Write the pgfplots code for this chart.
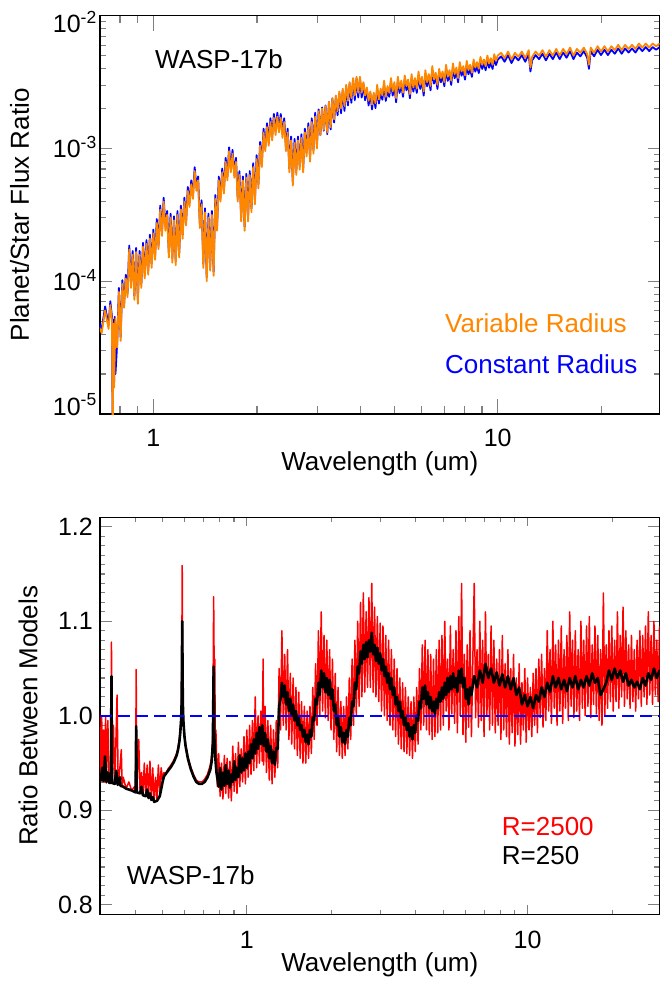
\documentclass[border=0pt]{standalone}
\usepackage{fontspec}
\setmainfont{Liberation Sans}
\usepackage{pgfplots}
\pgfplotsset{compat=1.18}
\definecolor{orng}{RGB}{255,135,0}
\begin{document}
\fontsize{26}{31}\selectfont
\begin{tikzpicture}
\path[use as bounding box] (0,0) rectangle (660pt,983pt);
% ---------------- top panel ----------------
\begin{axis}[
  at={(100pt,569pt)}, anchor=south west, scale only axis,
  width=559.5pt, height=398.3pt,
  xmode=log, ymode=log,
  xmin=0.7, xmax=29.5, ymin=1e-5, ymax=1e-2,
  xtick={1,10}, xticklabels={1,10},
  minor xtick={0.8,0.9,2,3,4,5,6,7,8,9,20},
  ytick={1e-5,1e-4,1e-3,1e-2},
  yticklabels={\raisebox{8pt}{10\textsuperscript{-5}},10\textsuperscript{-4},10\textsuperscript{-3},\raisebox{-8pt}{10\textsuperscript{-2}}},
  minor ytick={2e-5,3e-5,4e-5,5e-5,6e-5,7e-5,8e-5,9e-5,2e-4,3e-4,4e-4,5e-4,6e-4,7e-4,8e-4,9e-4,2e-3,3e-3,4e-3,5e-3,6e-3,7e-3,8e-3,9e-3},
  tick align=inside,
  axis line style={line width=1.2pt},
  xtick style={line width=1.1pt, /pgfplots/major tick length=15pt, /pgfplots/minor tick length=7.7pt},
  ytick style={line width=1.1pt, /pgfplots/major tick length=12pt, /pgfplots/minor tick length=6pt},
  xticklabel style={anchor=base, yshift=-32pt, inner sep=0pt, font=\fontsize{25}{30}\selectfont},
  yticklabel style={anchor=base east, xshift=-3pt, yshift=-9pt, inner sep=0pt, font=\fontsize{25}{30}\selectfont},
  xlabel={Wavelength (um)},
  xlabel style={at={(axis description cs:0.5,-0.1406)}, anchor=base, inner sep=0pt},
  ylabel={Planet/Star Flux Ratio},
  ylabel style={at={(axis description cs:-0.127,0.5)}, anchor=base, inner sep=0pt},
]
\addplot[blue, line width=1.8pt, line join=round] coordinates {
(0.6918,5.01e-5)(0.7079,4.35e-5)(0.7244,6.45e-5)(0.7413,4.68e-5)(0.7499,7.07e-5)(0.7586,5.36e-5)(0.7621,5.36e-6)(0.7656,5.13e-5)(0.7691,1.69e-5)(0.7727,5.40e-5)(0.7762,2.00e-5)(0.7852,3.38e-5)(0.7943,8.90e-5)(0.8035,3.80e-5)(0.8128,1.02e-4)(0.8222,6.75e-5)(0.8318,1.12e-4)(0.8414,8.12e-5)(0.8511,1.86e-4)(0.8610,9.53e-5)(0.8710,1.69e-4)(0.8810,7.75e-5)(0.8913,1.78e-4)(0.9016,7.23e-5)(0.9120,1.69e-4)(0.9226,9.53e-5)(0.9333,1.95e-4)(0.9441,1.12e-4)(0.9550,2.04e-4)(0.9661,1.20e-4)(0.9772,2.24e-4)(0.9886,1.35e-4)
(1.000,2.45e-4)(1.0116,1.55e-4)(1.0233,2.94e-4)(1.0351,1.86e-4)(1.0471,3.71e-4)(1.0593,2.34e-4)(1.0715,4.26e-4)(1.0839,2.57e-4)(1.0965,3.38e-4)(1.1092,1.62e-4)(1.1220,3.23e-4)(1.1350,1.48e-4)(1.1482,3.08e-4)(1.1614,1.41e-4)(1.1749,3.38e-4)(1.1885,1.62e-4)(1.2023,3.71e-4)(1.2162,2.24e-4)(1.2303,4.26e-4)(1.2445,2.81e-4)(1.2589,5.13e-4)(1.2735,3.88e-4)(1.2882,5.75e-4)(1.3032,4.46e-4)(1.3183,7.23e-4)(1.3335,5.13e-4)(1.3490,6.15e-4)(1.3646,2.69e-4)(1.3804,4.07e-4)(1.3964,1.35e-4)(1.4125,3.54e-4)(1.4289,1.07e-4)(1.4454,3.23e-4)(1.4622,1.28e-4)(1.4791,3.38e-4)(1.4962,1.18e-4)(1.5136,4.46e-4)(1.5311,2.57e-4)(1.5488,6.15e-4)(1.5668,4.26e-4)(1.5849,7.07e-4)(1.6032,4.89e-4)(1.6218,8.50e-4)(1.6406,6.15e-4)(1.6596,1.02e-3)(1.6788,7.07e-4)(1.6982,9.76e-4)(1.7179,6.45e-4)(1.7378,8.50e-4)(1.7579,4.26e-4)(1.7783,6.75e-4)(1.7989,3.02e-4)(1.8197,6.15e-4)(1.8408,2.57e-4)(1.8621,6.45e-4)(1.8836,3.02e-4)(1.9055,6.75e-4)(1.9275,3.54e-4)(1.9498,7.75e-4)(1.9724,4.07e-4)(1.9953,8.90e-4)
(2.0184,5.36e-4)(2.0417,1.12e-3)(2.0654,7.75e-4)(2.0893,1.41e-3)(2.1135,1.02e-3)(2.1380,1.55e-3)(2.1627,1.12e-3)(2.1878,1.69e-3)(2.2131,1.23e-3)(2.2387,1.82e-3)(2.2646,1.35e-3)(2.2909,1.86e-3)(2.3174,1.41e-3)(2.3442,1.82e-3)(2.3714,1.28e-3)(2.3988,1.69e-3)(2.4266,1.02e-3)(2.4547,1.41e-3)(2.4831,7.07e-4)(2.5119,1.23e-3)(2.5410,5.62e-4)(2.5704,1.18e-3)(2.6002,6.75e-4)(2.6303,1.23e-3)(2.6607,7.40e-4)(2.6915,1.28e-3)(2.7227,7.07e-4)(2.7542,1.41e-3)(2.7861,9.32e-4)(2.8184,1.55e-3)(2.8510,8.50e-4)(2.8840,1.69e-3)(2.9174,9.76e-4)(2.9512,1.86e-3)(2.9854,1.07e-3)
(3.0200,1.97e-3)(3.0549,1.26e-3)(3.0903,2.04e-3)(3.1261,1.36e-3)(3.1623,2.11e-3)(3.1989,1.28e-3)(3.2359,2.24e-3)(3.2734,1.39e-3)(3.3113,2.37e-3)(3.3497,1.57e-3)(3.3884,2.46e-3)(3.4277,1.78e-3)(3.4674,2.61e-3)(3.5075,1.84e-3)(3.5481,2.74e-3)(3.5892,1.92e-3)(3.6308,2.93e-3)(3.6728,2.11e-3)(3.7154,3.07e-3)(3.7584,2.21e-3)(3.8019,3.29e-3)(3.8459,2.31e-3)(3.8905,3.37e-3)(3.9355,2.42e-3)(3.9811,3.37e-3)(4.0272,2.42e-3)(4.0738,3.07e-3)(4.1210,2.31e-3)(4.1687,2.79e-3)(4.2170,2.11e-3)(4.2658,2.61e-3)(4.3152,1.97e-3)(4.3652,2.55e-3)(4.4157,2.01e-3)
(4.4668,2.81e-3)(4.5186,2.18e-3)(4.5709,2.62e-3)(4.6238,2.33e-3)(4.6774,3.01e-3)(4.7315,2.28e-3)(4.7863,2.74e-3)(4.8417,2.45e-3)(4.8978,3.15e-3)(4.9545,2.50e-3)(5.0119,2.94e-3)(5.0699,2.23e-3)(5.1286,3.23e-3)(5.1880,2.62e-3)(5.2481,3.01e-3)(5.3088,2.45e-3)(5.3703,3.30e-3)(5.4325,2.74e-3)(5.4954,3.08e-3)(5.5590,2.39e-3)(5.6234,3.38e-3)(5.6885,2.68e-3)(5.7544,3.15e-3)(5.8210,2.62e-3)(5.8884,3.53e-3)(5.9566,2.81e-3)(6.0256,3.23e-3)(6.0954,2.50e-3)(6.1660,3.62e-3)(6.2373,2.94e-3)(6.3096,3.38e-3)(6.3826,2.74e-3)(6.4565,3.88e-3)(6.5313,3.08e-3)(6.6069,3.46e-3)(6.6834,2.81e-3)(6.7608,3.70e-3)(6.8391,3.15e-3)(6.9183,3.53e-3)(6.9984,2.94e-3)(7.0795,3.97e-3)(7.1614,3.23e-3)(7.2444,3.62e-3)(7.3282,3.01e-3)(7.4131,4.06e-3)(7.4989,3.38e-3)(7.5858,3.79e-3)(7.6736,3.15e-3)(7.7625,4.16e-3)(7.8524,3.53e-3)(7.9433,3.88e-3)(8.0353,3.30e-3)(8.1283,4.25e-3)(8.2224,3.62e-3)(8.3176,3.97e-3)(8.4140,3.46e-3)(8.5114,4.35e-3)(8.6099,3.79e-3)(8.7096,4.16e-3)(8.8105,3.70e-3)(8.9125,4.56e-3)(9.0157,3.97e-3)(9.1201,4.35e-3)(9.2257,3.88e-3)(9.3325,4.66e-3)(9.4406,4.06e-3)(9.5499,4.45e-3)(9.6605,3.97e-3)(9.7724,4.77e-3)(9.8855,4.25e-3)
(10.000,4.66e-3)(10.233,4.94e-3)(10.471,4.50e-3)(10.715,5.05e-3)(10.965,4.40e-3)(11.220,4.94e-3)(11.482,4.61e-3)(11.749,5.05e-3)(12.023,4.50e-3)(12.303,5.17e-3)(12.445,3.80e-3)(12.589,4.61e-3)(12.882,5.05e-3)(13.183,4.71e-3)(13.490,5.17e-3)(13.804,4.61e-3)(14.125,5.17e-3)(14.454,4.71e-3)(14.791,5.28e-3)(15.136,4.71e-3)(15.488,5.28e-3)(15.849,4.82e-3)(16.218,5.41e-3)(16.596,4.71e-3)(16.982,5.28e-3)(17.378,4.94e-3)(17.783,5.41e-3)(18.197,4.82e-3)(18.408,3.98e-3)(18.621,5.41e-3)(19.055,4.94e-3)(19.498,5.54e-3)(19.953,5.05e-3)(20.417,5.54e-3)(20.893,5.05e-3)(21.380,5.54e-3)(21.878,5.17e-3)(22.387,5.67e-3)(22.909,5.17e-3)(23.442,5.67e-3)(23.988,5.28e-3)(24.547,5.67e-3)(25.119,5.28e-3)(25.704,5.80e-3)(26.303,5.41e-3)(26.915,5.80e-3)(27.542,5.41e-3)(28.184,5.80e-3)(28.840,5.54e-3)(29.512,5.80e-3)
};
\addplot[orng, line width=1.8pt, line join=round] coordinates {
(0.6918,4.68e-5)(0.7079,4.07e-5)(0.7244,6.03e-5)(0.7413,4.37e-5)(0.7499,6.61e-5)(0.7586,5.01e-5)(0.7621,5.01e-6)(0.7656,4.79e-5)(0.7691,1.58e-5)(0.7762,5.25e-5)(0.7852,3.16e-5)(0.7943,8.32e-5)(0.8035,3.55e-5)(0.8128,9.55e-5)(0.8222,6.31e-5)(0.8318,1.05e-4)(0.8414,7.59e-5)(0.8511,1.74e-4)(0.8610,8.91e-5)(0.8710,1.58e-4)(0.8810,7.24e-5)(0.8913,1.66e-4)(0.9016,6.76e-5)(0.9120,1.58e-4)(0.9226,8.91e-5)(0.9333,1.82e-4)(0.9441,1.05e-4)(0.9550,1.91e-4)(0.9661,1.12e-4)(0.9772,2.09e-4)(0.9886,1.26e-4)
(1.000,2.29e-4)(1.0116,1.45e-4)(1.0233,2.75e-4)(1.0351,1.74e-4)(1.0471,3.47e-4)(1.0593,2.19e-4)(1.0715,3.98e-4)(1.0839,2.40e-4)(1.0965,3.16e-4)(1.1092,1.51e-4)(1.1220,3.02e-4)(1.1350,1.38e-4)(1.1482,2.88e-4)(1.1614,1.32e-4)(1.1749,3.16e-4)(1.1885,1.51e-4)(1.2023,3.47e-4)(1.2162,2.09e-4)(1.2303,3.98e-4)(1.2445,2.63e-4)(1.2589,4.79e-4)(1.2735,3.63e-4)(1.2882,5.37e-4)(1.3032,4.17e-4)(1.3183,6.76e-4)(1.3335,4.79e-4)(1.3490,5.75e-4)(1.3646,2.51e-4)(1.3804,3.80e-4)(1.3964,1.26e-4)(1.4125,3.31e-4)(1.4289,1.00e-4)(1.4454,3.02e-4)(1.4622,1.20e-4)(1.4791,3.16e-4)(1.4962,1.10e-4)(1.5136,4.17e-4)(1.5311,2.40e-4)(1.5488,5.75e-4)(1.5668,3.98e-4)(1.5849,6.61e-4)(1.6032,4.57e-4)(1.6218,7.94e-4)(1.6406,5.75e-4)(1.6596,9.55e-4)(1.6788,6.61e-4)(1.6982,9.12e-4)(1.7179,6.03e-4)(1.7378,7.94e-4)(1.7579,3.98e-4)(1.7783,6.31e-4)(1.7989,2.82e-4)(1.8197,5.75e-4)(1.8408,2.40e-4)(1.8621,6.03e-4)(1.8836,2.82e-4)(1.9055,6.31e-4)(1.9275,3.31e-4)(1.9498,7.24e-4)(1.9724,3.80e-4)(1.9953,8.32e-4)
(2.0184,5.01e-4)(2.0417,1.05e-3)(2.0654,7.24e-4)(2.0893,1.32e-3)(2.1135,9.55e-4)(2.1380,1.45e-3)(2.1627,1.05e-3)(2.1878,1.58e-3)(2.2131,1.15e-3)(2.2387,1.70e-3)(2.2646,1.26e-3)(2.2909,1.74e-3)(2.3174,1.32e-3)(2.3442,1.70e-3)(2.3714,1.20e-3)(2.3988,1.58e-3)(2.4266,9.55e-4)(2.4547,1.32e-3)(2.4831,6.61e-4)(2.5119,1.15e-3)(2.5410,5.25e-4)(2.5704,1.10e-3)(2.6002,6.31e-4)(2.6303,1.15e-3)(2.6607,6.92e-4)(2.6915,1.20e-3)(2.7227,6.61e-4)(2.7542,1.32e-3)(2.7861,8.71e-4)(2.8184,1.45e-3)(2.8510,7.94e-4)(2.8840,1.58e-3)(2.9174,9.12e-4)(2.9512,1.74e-3)(2.9854,1.00e-3)
(3.0200,1.91e-3)(3.0549,1.26e-3)(3.0903,2.00e-3)(3.1261,1.38e-3)(3.1623,2.09e-3)(3.1989,1.32e-3)(3.2359,2.24e-3)(3.2734,1.45e-3)(3.3113,2.40e-3)(3.3497,1.66e-3)(3.3884,2.51e-3)(3.4277,1.91e-3)(3.4674,2.69e-3)(3.5075,2.00e-3)(3.5481,2.82e-3)(3.5892,2.09e-3)(3.6308,3.02e-3)(3.6728,2.29e-3)(3.7154,3.16e-3)(3.7584,2.40e-3)(3.8019,3.39e-3)(3.8459,2.51e-3)(3.8905,3.47e-3)(3.9355,2.63e-3)(3.9811,3.47e-3)(4.0272,2.63e-3)(4.0738,3.16e-3)(4.1210,2.51e-3)(4.1687,2.88e-3)(4.2170,2.29e-3)(4.2658,2.69e-3)(4.3152,2.14e-3)(4.3652,2.63e-3)(4.4157,2.19e-3)
(4.4668,3.02e-3)(4.5186,2.34e-3)(4.5709,2.82e-3)(4.6238,2.51e-3)(4.6774,3.24e-3)(4.7315,2.45e-3)(4.7863,2.95e-3)(4.8417,2.63e-3)(4.8978,3.39e-3)(4.9545,2.69e-3)(5.0119,3.16e-3)(5.0699,2.40e-3)(5.1286,3.47e-3)(5.1880,2.82e-3)(5.2481,3.24e-3)(5.3088,2.63e-3)(5.3703,3.55e-3)(5.4325,2.95e-3)(5.4954,3.31e-3)(5.5590,2.57e-3)(5.6234,3.63e-3)(5.6885,2.88e-3)(5.7544,3.39e-3)(5.8210,2.82e-3)(5.8884,3.80e-3)(5.9566,3.02e-3)(6.0256,3.47e-3)(6.0954,2.69e-3)(6.1660,3.89e-3)(6.2373,3.16e-3)(6.3096,3.63e-3)(6.3826,2.95e-3)(6.4565,4.17e-3)(6.5313,3.31e-3)(6.6069,3.72e-3)(6.6834,3.02e-3)(6.7608,3.98e-3)(6.8391,3.39e-3)(6.9183,3.80e-3)(6.9984,3.16e-3)(7.0795,4.27e-3)(7.1614,3.47e-3)(7.2444,3.89e-3)(7.3282,3.24e-3)(7.4131,4.37e-3)(7.4989,3.63e-3)(7.5858,4.07e-3)(7.6736,3.39e-3)(7.7625,4.47e-3)(7.8524,3.80e-3)(7.9433,4.17e-3)(8.0353,3.55e-3)(8.1283,4.57e-3)(8.2224,3.89e-3)(8.3176,4.27e-3)(8.4140,3.72e-3)(8.5114,4.68e-3)(8.6099,4.07e-3)(8.7096,4.47e-3)(8.8105,3.98e-3)(8.9125,4.90e-3)(9.0157,4.27e-3)(9.1201,4.68e-3)(9.2257,4.17e-3)(9.3325,5.01e-3)(9.4406,4.37e-3)(9.5499,4.79e-3)(9.6605,4.27e-3)(9.7724,5.13e-3)(9.8855,4.57e-3)
(10.000,5.01e-3)(10.233,5.25e-3)(10.471,4.79e-3)(10.715,5.37e-3)(10.965,4.68e-3)(11.220,5.25e-3)(11.482,4.90e-3)(11.749,5.37e-3)(12.023,4.79e-3)(12.303,5.50e-3)(12.445,4.07e-3)(12.589,4.90e-3)(12.882,5.37e-3)(13.183,5.01e-3)(13.490,5.50e-3)(13.804,4.90e-3)(14.125,5.50e-3)(14.454,5.01e-3)(14.791,5.62e-3)(15.136,5.01e-3)(15.488,5.62e-3)(15.849,5.13e-3)(16.218,5.75e-3)(16.596,5.01e-3)(16.982,5.62e-3)(17.378,5.25e-3)(17.783,5.75e-3)(18.197,5.13e-3)(18.408,4.27e-3)(18.621,5.75e-3)(19.055,5.25e-3)(19.498,5.89e-3)(19.953,5.37e-3)(20.417,5.89e-3)(20.893,5.37e-3)(21.380,5.89e-3)(21.878,5.50e-3)(22.387,6.03e-3)(22.909,5.50e-3)(23.442,6.03e-3)(23.988,5.62e-3)(24.547,6.03e-3)(25.119,5.62e-3)(25.704,6.17e-3)(26.303,5.75e-3)(26.915,6.17e-3)(27.542,5.75e-3)(28.184,6.17e-3)(28.840,5.89e-3)(29.512,6.17e-3)
};
\node[anchor=base west, inner sep=0pt] at (axis description cs:0.0983,0.868) {WASP-17b};
\node[anchor=base west, inner sep=0pt, text=orng] at (axis description cs:0.6166,0.2034) {Variable Radius};
\node[anchor=base west, inner sep=0pt, text=blue] at (axis description cs:0.6166,0.1029) {Constant Radius};
\end{axis}
% ---------------- bottom panel ----------------
\begin{axis}[
  at={(100pt,68.7pt)}, anchor=south west, scale only axis,
  width=559.5pt, height=397pt,
  xmode=log,
  xmin=0.3, xmax=29.5, ymin=0.79, ymax=1.21,
  xtick={1,10}, xticklabels={1,10},
  minor xtick={0.4,0.5,0.6,0.7,0.8,0.9,2,3,4,5,6,7,8,9,20},
  ytick={0.8,0.9,1.0,1.1,1.2},
  yticklabels={0.8,0.9,1.0,1.1,1.2},
  minor y tick num=9,
  tick align=inside,
  axis line style={line width=1.2pt},
  xtick style={line width=1.1pt, /pgfplots/major tick length=9pt, /pgfplots/minor tick length=4.5pt},
  ytick style={line width=1.1pt, /pgfplots/major tick length=12pt, /pgfplots/minor tick length=5.5pt},
  xticklabel style={anchor=base, yshift=-33.7pt, inner sep=0pt, font=\fontsize{25}{30}\selectfont},
  yticklabel style={anchor=east, xshift=-7pt, inner sep=0pt, font=\fontsize{25}{30}\selectfont},
  xlabel={Wavelength (um)},
  xlabel style={at={(axis description cs:0.5,-0.1453)}, anchor=base, inner sep=0pt},
  ylabel={Ratio Between Models},
  ylabel style={at={(axis description cs:-0.112,0.5)}, anchor=base, inner sep=0pt},
]
\addplot[red, line width=1.5pt, line join=round] coordinates {
(0.2951,0.935)(0.2985,1.005)(0.3020,0.931)(0.3041,1.000)(0.3069,0.930)(0.3090,0.985)(0.3119,0.930)(0.3141,1.000)(0.3162,0.929)(0.3199,0.995)(0.3236,0.929)(0.3281,0.930)(0.3296,1.078)(0.3311,0.929)(0.3350,0.990)(0.3388,0.928)(0.3451,1.022)(0.3483,0.927)(0.3532,0.945)(0.3573,0.964)(0.3597,0.926)(0.3631,0.935)(0.3715,0.923)(0.3802,0.930)(0.3890,0.921)(0.3981,0.925)(0.4018,0.919)(0.4036,1.049)(0.4055,0.919)(0.4121,0.975)(0.4169,0.918)(0.4217,0.940)(0.4266,0.916)(0.4315,0.950)(0.4365,0.915)(0.4416,0.948)(0.4467,0.913)(0.4519,0.952)(0.4571,0.911)(0.4624,0.945)(0.4677,0.909)(0.4732,0.935)(0.4786,0.912)(0.4842,0.948)(0.4898,0.918)(0.4955,0.945)
(0.5012,0.932)(0.5070,0.940)(0.5129,0.938)(0.5248,0.944)(0.5370,0.948)(0.5495,0.953)(0.5623,0.960)(0.5689,0.966)(0.5754,0.975)(0.5794,0.985)(0.5834,1.000)(0.5861,1.025)(0.5888,1.159)(0.5916,1.020)(0.5943,0.998)(0.5998,0.980)(0.6053,0.970)(0.6166,0.957)(0.6310,0.946)(0.6457,0.938)(0.6607,0.932)(0.6761,0.930)(0.6918,0.930)(0.7079,0.933)(0.7244,0.938)(0.7413,0.948)(0.7499,0.958)(0.7568,0.980)(0.7621,1.126)(0.7656,1.040)(0.7691,1.060)(0.7727,0.960)(0.7762,0.985)(0.7852,0.925)(0.7943,0.960)(0.8035,0.915)(0.8128,0.950)(0.8222,0.912)(0.8318,0.958)(0.8414,0.918)(0.8511,0.955)(0.8610,0.913)(0.8710,0.952)(0.8810,0.910)(0.8913,0.968)(0.9016,0.920)(0.9120,0.960)(0.9226,0.918)(0.9333,0.972)(0.9441,0.925)(0.9550,0.965)(0.9661,0.930)(0.9772,0.978)(0.9886,0.928)
(1.000,0.985)(1.0116,0.935)(1.0233,0.990)(1.0351,0.938)(1.0471,0.995)(1.0593,0.942)(1.0715,1.020)(1.0839,0.945)(1.0965,1.000)(1.1092,0.950)(1.1220,1.005)(1.1350,0.952)(1.1429,1.060)(1.1482,0.948)(1.1614,1.010)(1.1749,0.940)(1.1885,0.995)(1.2023,0.932)(1.2162,0.990)(1.2303,0.928)(1.2445,0.985)(1.2589,0.935)(1.2735,0.995)(1.2882,0.945)(1.3032,1.050)(1.3183,0.985)(1.3335,1.090)(1.3490,0.990)(1.3646,1.065)(1.3804,0.985)(1.3964,1.070)(1.4125,0.975)(1.4289,1.045)(1.4454,0.970)(1.4622,1.040)(1.4791,0.965)(1.4962,1.030)(1.5136,0.958)(1.5311,1.025)(1.5488,0.955)(1.5668,1.015)(1.5849,0.950)(1.6032,1.010)(1.6218,0.950)(1.6406,1.005)(1.6596,0.955)(1.6788,1.010)(1.6982,0.960)(1.7179,1.030)(1.7378,0.975)(1.7579,1.055)(1.7783,0.990)(1.7989,1.090)(1.8197,1.000)(1.8408,1.110)(1.8621,1.005)(1.8836,1.085)(1.9055,0.998)(1.9275,1.080)(1.9498,0.995)(1.9724,1.070)(1.9953,0.985)
(2.0184,1.060)(2.0417,0.975)(2.0654,1.045)(2.0893,0.962)(2.1135,1.030)(2.1380,0.958)(2.1627,1.015)(2.1878,0.955)(2.2131,1.010)(2.2387,0.958)(2.2646,1.020)(2.2909,0.965)(2.3174,1.040)(2.3442,0.975)(2.3714,1.060)(2.3988,0.990)(2.4266,1.080)(2.4547,1.000)(2.4831,1.100)(2.5119,1.010)(2.5410,1.120)(2.5704,1.020)(2.6002,1.130)(2.6303,1.025)(2.6607,1.110)(2.6915,1.030)(2.7227,1.125)(2.7542,1.030)(2.7861,1.140)(2.8184,1.025)(2.8510,1.115)(2.8840,1.020)(2.9174,1.105)(2.9512,1.015)(2.9854,1.098)
(3.0200,1.005)(3.0549,1.095)(3.0903,1.000)(3.1261,1.085)(3.1623,0.995)(3.1989,1.080)(3.2359,0.990)(3.2734,1.070)(3.3113,0.985)(3.3497,1.060)(3.3884,0.978)(3.4277,1.050)(3.4674,0.970)(3.5075,1.040)(3.5481,0.965)(3.5892,1.035)(3.6308,0.962)(3.6728,1.030)(3.7154,0.960)(3.7584,1.020)(3.8019,0.958)(3.8459,1.015)(3.8905,0.955)(3.9355,1.020)(3.9811,0.962)(4.0272,1.030)(4.0738,0.970)(4.1210,1.050)(4.1687,0.985)(4.2170,1.075)(4.2658,0.990)(4.3152,1.080)(4.3652,0.985)(4.4157,1.070)(4.4668,0.980)(4.5186,1.065)(4.5709,0.975)(4.6238,1.060)(4.6774,0.978)(4.7315,1.070)(4.7863,0.982)(4.8417,1.080)(4.8978,0.985)(4.9545,1.085)
(5.0119,0.990)(5.0699,1.100)(5.1286,1.005)(5.1880,1.060)(5.2481,0.985)(5.3088,1.095)(5.3703,1.002)(5.4325,1.070)(5.4954,0.992)(5.5590,1.090)(5.6234,0.982)(5.6885,1.105)(5.7544,1.000)(5.8210,1.140)(5.8884,0.980)(5.9566,1.065)(6.0256,0.972)(6.0954,1.075)(6.1660,0.988)(6.2373,1.090)(6.3096,0.978)(6.4565,1.140)(6.5313,0.998)(6.6069,1.070)(6.6834,0.988)(6.7608,1.100)(6.8391,0.995)(6.9183,1.080)(6.9984,0.978)(7.0795,1.110)(7.1614,1.000)(7.2444,1.065)(7.3282,0.985)(7.4131,1.095)(7.4989,0.990)(7.5858,1.080)(7.6736,0.982)(7.7625,1.060)(7.8524,0.990)(7.9433,1.070)(8.0353,0.975)(8.1283,1.085)(8.2224,0.985)(8.3176,1.055)(8.4140,0.978)(8.5114,1.070)(8.6099,0.970)(8.7096,1.050)(8.8105,0.982)(8.9125,1.065)(9.0157,0.968)(9.1201,1.040)(9.2257,0.980)(9.3325,1.055)(9.4406,0.970)(9.5499,1.035)(9.6605,0.985)(9.7724,1.050)(9.8855,0.972)
(10.000,1.040)(10.116,0.985)(10.233,1.030)(10.351,0.978)(10.471,1.045)(10.593,0.990)(10.715,1.050)(10.839,0.982)(10.965,1.060)(11.092,0.998)(11.220,1.065)(11.350,0.988)(11.482,1.050)(11.614,0.995)(11.749,1.090)(11.885,1.005)(12.023,1.070)(12.162,0.992)(12.303,1.100)(12.445,1.008)(12.589,1.075)(12.735,0.990)(12.882,1.080)(13.032,1.005)(13.183,1.095)(13.335,0.992)(13.490,1.070)(13.646,1.008)(13.804,1.085)(13.964,0.995)(14.125,1.110)(14.289,1.010)(14.454,1.080)(14.622,0.998)(14.791,1.090)(14.962,1.005)(15.136,1.070)(15.311,0.995)(15.488,1.100)(15.668,1.008)(15.849,1.080)(16.032,1.000)(16.218,1.095)(16.406,1.010)(16.596,1.105)(16.788,0.998)(16.982,1.075)(17.179,1.012)(17.378,1.095)(17.579,1.002)(17.783,1.085)(17.989,0.995)(18.197,1.070)(18.408,0.990)(18.621,1.130)(18.836,1.000)(19.055,1.075)(19.275,1.008)(19.498,1.090)(19.724,1.015)
(19.953,1.095)(20.184,1.005)(20.417,1.080)(20.654,1.015)(20.893,1.110)(21.135,1.008)(21.380,1.085)(21.627,1.020)(21.878,1.115)(22.131,1.010)(22.387,1.090)(22.646,1.018)(22.909,1.075)(23.174,1.008)(23.442,1.085)(23.714,1.015)(23.988,1.070)(24.266,1.005)(24.547,1.080)(24.831,1.018)(25.119,1.090)(25.410,1.010)(25.704,1.085)(26.002,1.020)(26.303,1.095)(26.607,1.012)(26.915,1.110)(27.227,1.022)(27.542,1.085)(27.861,1.012)(28.184,1.100)(28.510,1.022)(28.840,1.080)(29.174,1.015)(29.512,1.095)
};
\addplot[black, line width=2.6pt, line join=round] coordinates {
(0.2951,0.933)(0.3020,0.932)(0.3055,0.945)(0.3090,0.931)(0.3126,0.957)(0.3162,0.930)(0.3199,0.940)(0.3236,0.929)(0.3281,0.929)(0.3296,1.042)(0.3311,0.929)(0.3388,0.928)(0.3428,0.942)(0.3467,0.927)(0.3532,0.935)(0.3548,0.926)(0.3631,0.925)(0.3715,0.923)(0.3802,0.922)(0.3890,0.921)(0.4018,0.919)(0.4036,0.989)(0.4055,0.919)(0.4169,0.918)(0.4217,0.925)(0.4266,0.916)(0.4365,0.915)(0.4416,0.922)(0.4467,0.913)(0.4519,0.918)(0.4571,0.911)(0.4624,0.914)(0.4677,0.909)(0.4786,0.910)(0.4898,0.915)
(0.5012,0.930)(0.5070,0.936)(0.5129,0.938)(0.5248,0.942)(0.5370,0.946)(0.5495,0.951)(0.5623,0.958)(0.5689,0.964)(0.5754,0.973)(0.5794,0.982)(0.5834,0.995)(0.5861,1.015)(0.5888,1.100)(0.5916,1.015)(0.5943,0.995)(0.5998,0.978)(0.6053,0.968)(0.6166,0.955)(0.6310,0.944)(0.6457,0.936)(0.6607,0.930)(0.6761,0.928)(0.6918,0.928)(0.7079,0.930)(0.7244,0.935)(0.7413,0.943)(0.7499,0.952)(0.7568,0.970)(0.7621,1.052)(0.7656,0.980)(0.7727,0.955)(0.7798,0.940)
(0.7943,0.925)(0.8035,0.945)(0.8128,0.922)(0.8222,0.940)(0.8318,0.926)(0.8414,0.948)(0.8511,0.928)(0.8610,0.942)(0.8710,0.924)(0.8810,0.938)(0.8913,0.930)(0.9016,0.952)(0.9120,0.932)(0.9226,0.945)(0.9333,0.935)(0.9441,0.958)(0.9550,0.940)(0.9661,0.955)(0.9772,0.942)(0.9886,0.960)
(1.000,0.945)(1.0116,0.962)(1.0233,0.950)(1.0351,0.970)(1.0471,0.955)(1.0593,0.975)(1.0715,0.960)(1.0839,0.982)(1.0965,0.965)(1.1092,0.988)(1.1220,0.970)(1.1350,0.990)(1.1482,0.968)(1.1614,0.982)(1.1749,0.962)(1.1885,0.975)(1.2023,0.955)(1.2162,0.968)(1.2303,0.950)(1.2445,0.962)(1.2589,0.948)(1.2735,0.966)(1.2882,0.965)(1.3032,1.010)(1.3183,1.018)(1.3335,1.035)(1.3490,1.020)(1.3646,1.032)(1.3804,1.012)(1.3964,1.025)(1.4125,1.005)(1.4289,1.018)(1.4454,1.000)(1.4622,1.012)(1.4791,0.995)(1.4962,1.005)(1.5136,0.990)(1.5311,0.998)(1.5488,0.985)(1.5668,0.990)(1.5849,0.978)(1.6032,0.985)(1.6218,0.972)(1.6406,0.980)(1.6596,0.970)(1.6788,0.985)(1.6982,0.978)(1.7179,0.998)(1.7378,0.995)(1.7579,1.018)(1.7783,1.012)(1.7989,1.035)(1.8197,1.022)(1.8408,1.048)(1.8621,1.030)(1.8836,1.045)(1.9055,1.025)(1.9275,1.040)(1.9498,1.022)(1.9724,1.038)(1.9953,1.018)
(2.0184,1.028)(2.0417,1.005)(2.0654,1.012)(2.0893,0.990)(2.1135,0.998)(2.1380,0.978)(2.1627,0.988)(2.1878,0.972)(2.2131,0.982)(2.2387,0.970)(2.2646,0.985)(2.2909,0.978)(2.3174,0.998)(2.3442,0.990)(2.3714,1.015)(2.3988,1.010)(2.4266,1.035)(2.4547,1.028)(2.4831,1.052)(2.5119,1.045)(2.5410,1.068)(2.5704,1.055)(2.6002,1.075)(2.6303,1.060)(2.6607,1.078)(2.6915,1.062)(2.7227,1.080)(2.7542,1.068)(2.7861,1.088)(2.8184,1.065)(2.8510,1.075)(2.8840,1.058)(2.9174,1.072)(2.9512,1.055)(2.9854,1.066)
(3.0200,1.048)(3.0549,1.060)(3.0903,1.042)(3.1261,1.052)(3.1623,1.035)(3.1989,1.045)(3.2359,1.028)(3.2734,1.040)(3.3113,1.022)(3.3497,1.030)(3.3884,1.012)(3.4277,1.020)(3.4674,1.005)(3.5075,1.015)(3.5481,0.998)(3.5892,1.005)(3.6308,0.990)(3.6728,0.998)(3.7154,0.985)(3.7584,0.992)(3.8019,0.978)(3.8459,0.988)(3.8905,0.975)(3.9355,0.990)(3.9811,0.982)(4.0272,1.000)(4.0738,0.995)(4.1210,1.015)(4.1687,1.008)(4.2170,1.030)(4.2658,1.018)(4.3152,1.032)(4.3652,1.012)(4.4157,1.025)(4.4668,1.008)(4.5186,1.020)(4.5709,1.005)(4.6238,1.015)(4.6774,1.002)(4.7315,1.018)(4.7863,1.008)(4.8417,1.025)(4.8978,1.015)(4.9545,1.030)
(5.0119,1.018)(5.0699,1.035)(5.1286,1.022)(5.1880,1.040)(5.2481,1.025)(5.3088,1.042)(5.3703,1.028)(5.4325,1.045)(5.4954,1.030)(5.5590,1.040)(5.6234,1.025)(5.6885,1.048)(5.7544,1.035)(5.8210,1.050)(5.8884,1.030)(5.9566,1.040)(6.0256,1.018)(6.0954,1.028)(6.1660,1.012)(6.2373,1.030)(6.3096,1.022)(6.4565,1.042)(6.6069,1.030)(6.7608,1.048)(6.9183,1.035)(7.0795,1.055)(7.2444,1.040)(7.4131,1.050)(7.5858,1.035)(7.7625,1.046)(7.9433,1.032)(8.1283,1.044)(8.3176,1.030)(8.5114,1.042)(8.7096,1.028)(8.9125,1.040)(9.1201,1.022)(9.3325,1.030)(9.5499,1.012)(9.7724,1.022)
(10.000,1.010)(10.233,1.020)(10.471,1.008)(10.715,1.022)(10.965,1.015)(11.220,1.030)(11.482,1.020)(11.749,1.035)(12.023,1.025)(12.303,1.042)(12.589,1.030)(12.882,1.040)(13.183,1.028)(13.490,1.038)(13.804,1.026)(14.125,1.040)(14.454,1.030)(14.791,1.042)(15.136,1.028)(15.488,1.038)(15.849,1.030)(16.218,1.042)(16.596,1.032)(16.982,1.045)(17.378,1.035)(17.783,1.040)(18.197,1.022)(18.621,1.028)(19.055,1.035)(19.498,1.048)(19.953,1.038)(20.417,1.050)(20.893,1.040)(21.380,1.048)(21.878,1.036)(22.387,1.045)(22.909,1.032)(23.442,1.038)(23.988,1.030)(24.547,1.036)(25.119,1.028)(25.704,1.040)(26.303,1.032)(26.915,1.045)(27.542,1.038)(28.184,1.050)(28.840,1.040)(29.512,1.048)
};
\addplot[blue, line width=1.5pt, dash pattern=on 12pt off 6pt] coordinates {(0.3,1.0) (29.5,1.0)};
\node[anchor=base west, inner sep=0pt] at (axis description cs:0.0477,0.0738) {WASP-17b};
\node[anchor=base west, inner sep=0pt, text=red] at (axis description cs:0.7180,0.1997) {R=2500};
\node[anchor=base west, inner sep=0pt] at (axis description cs:0.7180,0.126) {R=250};
\end{axis}
\end{tikzpicture}
\end{document}
